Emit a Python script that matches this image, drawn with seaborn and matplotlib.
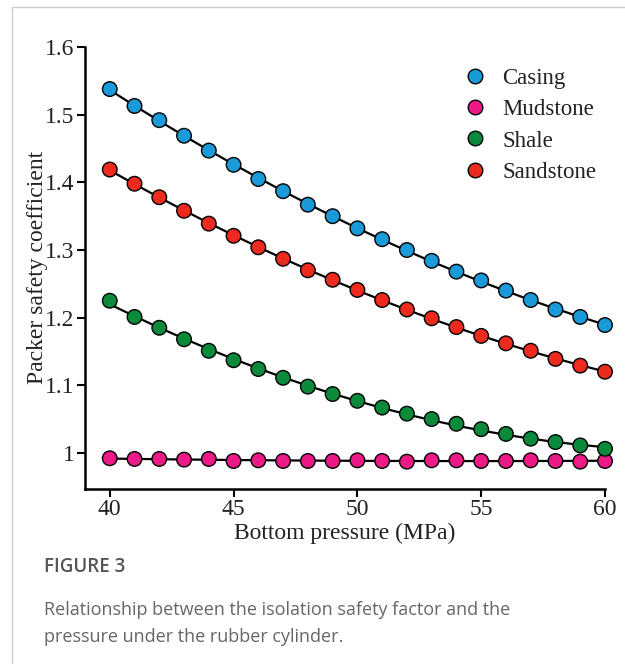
import numpy as np
import pandas as pd
import matplotlib.pyplot as plt
import seaborn as sns
from matplotlib.patches import Rectangle

# values
pressure = list(range(40, 61))
casing = [1.538, 1.513, 1.492, 1.469, 1.447, 1.426, 1.405, 1.387, 1.367, 1.350, 1.332,
          1.316, 1.300, 1.284, 1.268, 1.255, 1.240, 1.226, 1.212, 1.201, 1.189]
mudstone = [0.992, 0.991, 0.991, 0.990, 0.991, 0.988, 0.989, 0.988, 0.988, 0.988, 0.989,
            0.988, 0.987, 0.989, 0.989, 0.988, 0.988, 0.989, 0.988, 0.987, 0.988]
shale = [1.225, 1.201, 1.185, 1.168, 1.151, 1.137, 1.124, 1.111, 1.098, 1.087, 1.077,
         1.067, 1.058, 1.050, 1.043, 1.035, 1.028, 1.021, 1.016, 1.011, 1.006]
sandstone = [1.419, 1.398, 1.378, 1.358, 1.339, 1.321, 1.304, 1.287, 1.270, 1.256, 1.241,
             1.226, 1.212, 1.199, 1.186, 1.173, 1.162, 1.151, 1.139, 1.129, 1.120]
series_names = ["Casing", "Mudstone", "Shale", "Sandstone"]
colors = ["#1a9ad8", "#ec1a86", "#0b8a3c", "#ec2a1e"]
y_ticks = [1.0, 1.1, 1.2, 1.3, 1.4, 1.5, 1.6]
y_tick_labels = ["1", "1.1", "1.2", "1.3", "1.4", "1.5", "1.6"]
x_ticks = [40, 45, 50, 55, 60]

frames = []
for name, vals in zip(series_names, [casing, mudstone, shale, sandstone]):
    frames.append(pd.DataFrame({"pressure": pressure, "value": vals, "rock": name}))
df = pd.concat(frames, ignore_index=True)

sns.set_style("ticks")
plt.rcParams['font.family'] = ['Liberation Serif', 'DejaVu Serif']

fig = plt.figure(figsize=(6.25, 6.64), dpi=100)
ax = fig.add_axes([0.136, 0.264, 0.832, 0.665])

# smooth black fit lines through each series
for name in series_names:
    sub = df[df["rock"] == name]
    sns.regplot(data=sub, x="pressure", y="value", order=2, ci=None, scatter=False,
                ax=ax, line_kws={"color": "black", "lw": 1.6, "zorder": 2})

sns.scatterplot(data=df, x="pressure", y="value", hue="rock", hue_order=series_names,
                palette=colors, s=110, edgecolor="black", linewidth=1.0, ax=ax,
                zorder=3, clip_on=False)

ax.set_xlim(39, 60)
ax.set_ylim(0.947, 1.6)
ax.set_xticks(x_ticks)
ax.set_yticks(y_ticks)
ax.set_yticklabels(y_tick_labels)
ax.tick_params(axis="both", labelsize=17, width=1.5, length=6, color="black",
               labelcolor="#222222", pad=1.5)
ax.set_xlabel("Bottom pressure (MPa)", fontsize=17, color="#222222", labelpad=2)
ax.set_ylabel("Packer safety coefficient", fontsize=17, color="#222222")
ax.yaxis.set_label_coords(-0.072, 0.5)
sns.despine(ax=ax)
for side in ["left", "bottom"]:
    ax.spines[side].set_linewidth(1.8)
    ax.spines[side].set_color("black")

leg = ax.legend(loc="upper right", bbox_to_anchor=(1.023, 1.0), frameon=False,
                fontsize=16.5, handletextpad=0.2, labelspacing=0.45, markerscale=1.0)
for t in leg.get_texts():
    t.set_color("#222222")

# page frame and caption
fig.patches.append(Rectangle((0.019, -0.02), 1.0, 1.01, transform=fig.transFigure,
                             fill=False, edgecolor="#cccccc", lw=1.0))
cap_font = ['Open Sans', 'DejaVu Sans']
fig.text(0.071, 0.146, "FIGURE 3", fontsize=13.5, color="#555555", family=cap_font,
         weight="semibold", va="center")
fig.text(0.071, 0.061, "Relationship between the isolation safety factor and the\n"
         "pressure under the rubber cylinder.", fontsize=13, color="#666666",
         family=cap_font, va="center", linespacing=1.6)

fig.savefig("out.png", dpi=100)
